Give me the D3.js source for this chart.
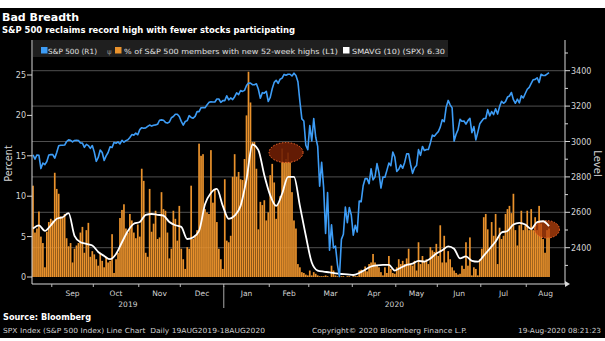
<!DOCTYPE html>
<html>
<head>
<meta charset="utf-8">
<title>Bad Breadth</title>
<script src="https://cdn.jsdelivr.net/npm/d3@7"></script>
<style>
  html, body { margin: 0; padding: 0; background: #fff; }
  svg { display: block; }
  text { font-family: "DejaVu Sans", sans-serif; }
</style>
</head>
<body>
<div id="chart"></div>
<script>
  // trading days 19AUG2019 - 18AUG2020 (weekdays)
  const days = d3.timeDay.range(new Date(2019, 7, 19), new Date(2020, 7, 19))
    .filter(d => d.getDay() % 6 !== 0)

  // S&P 500 close (R1)
  const spx = [
    2924, 2900, 2924, 2922, 2847, 2878, 2869, 2887, 2924, 2926,
    2926, 2906, 2938, 2976, 2979, 2979, 2980, 3000, 3009, 3007,
    2998, 3006, 3007, 3006, 2992, 2991, 2967, 2984, 2977, 2961,
    2977, 2940, 2888, 2910, 2952, 2938, 2893, 2919, 2938, 2970,
    2966, 2995, 2990, 2998, 2986, 3007, 2996, 3005, 3010, 3023,
    3039, 3036, 3047, 3038, 3067, 3078, 3075, 3077, 3085, 3093,
    3087, 3092, 3094, 3097, 3120, 3122, 3120, 3108, 3104, 3110,
    3134, 3141, 3154, 3154, 3141, 3114, 3093, 3113, 3118, 3146,
    3136, 3132, 3142, 3169, 3169, 3191, 3192, 3191, 3206, 3221,
    3224, 3223, 3223, 3240, 3240, 3221, 3231, 3231, 3258, 3235,
    3246, 3237, 3253, 3275, 3265, 3288, 3283, 3289, 3316, 3330,
    3330, 3321, 3321, 3326, 3295, 3244, 3276, 3273, 3284, 3226,
    3249, 3298, 3334, 3346, 3328, 3352, 3358, 3379, 3374, 3380,
    3380, 3370, 3386, 3373, 3338, 3226, 3128, 3116, 2979, 2954,
    3090, 3003, 3130, 3024, 2972, 2747, 2882, 2741, 2481, 2711,
    2386, 2529, 2398, 2409, 2305, 2237, 2447, 2476, 2630, 2541,
    2627, 2585, 2471, 2527, 2489, 2664, 2660, 2750, 2790, 2790,
    2762, 2846, 2783, 2800, 2875, 2823, 2737, 2799, 2798, 2837,
    2878, 2863, 2940, 2912, 2831, 2843, 2868, 2849, 2882, 2930,
    2930, 2870, 2820, 2852, 2864, 2954, 2922, 2972, 2949, 2955,
    2955, 2992, 3036, 3030, 3044, 3056, 3081, 3123, 3112, 3194,
    3232, 3207, 3190, 3002, 3041, 3067, 3125, 3114, 3116, 3098,
    3118, 3131, 3050, 3084, 3009, 3053, 3100, 3116, 3130, 3130,
    3180, 3145, 3169, 3152, 3185, 3155, 3197, 3227, 3216, 3225,
    3251, 3257, 3277, 3236, 3216, 3239, 3218, 3258, 3246, 3271,
    3295, 3306, 3328, 3349, 3351, 3360, 3333, 3380, 3373, 3373,
    3381, 3389
  ]

  // % of S&P 500 members with new 52-week highs (L1)
  const highs = [
    11.3, 5.5, 6.0, 8.1, 5.0, 4.2, 1.2, 5.6, 6.8, 7.2,
    7.0, 12.9, 10.9, 10.3, 7.5, 7.3, 7.8, 4.8, 3.8, 4.2,
    1.8, 3.5, 3.9, 4.2, 5.5, 6.2, 3.0, 5.8, 6.7, 2.5,
    3.2, 2.8, 2.2, 1.4, 3.0, 2.0, 1.2, 2.5, 1.8, 2.0,
    5.3, 0.5, 2.2, 3.0, 7.3, 8.3, 9.0, 6.0, 5.5, 7.8,
    7.0, 5.5, 4.8, 6.5, 5.0, 13.4, 11.9, 3.0, 2.5, 10.9,
    5.6, 6.6, 8.2, 4.7, 4.9, 10.5, 8.4, 8.2, 5.5, 2.3,
    3.5, 8.2, 7.2, 4.5, 8.8, 3.5, 2.2, 1.0, 3.7, 3.5,
    11.3, 4.7, 5.1, 5.8, 16.5, 15.0, 15.2, 8.4, 8.0, 7.8,
    15.7, 9.2, 10.9, 6.8, 3.5, 2.2, 1.0, 12.1, 4.5, 4.3,
    5.1, 12.4, 15.2, 12.4, 13.0, 12.1, 12.0, 14.6, 20.0, 25.4,
    21.6, 16.7, 16.7, 13.4, 5.9, 9.3, 8.9, 9.5, 7.0, 8.0,
    12.6, 14.0, 11.7, 7.2, 9.0, 10.0, 15.9, 14.2, 14.6, 15.4,
    14.2, 10.5, 7.0, 6.0, 1.6, 1.2, 0.6, 0.5, 0.3, 0.2,
    0.8, 0.2, 0.6, 0.4, 0.2, 0.1, 0.1, 0.1, 0.2, 0.1,
    0.0, 1.4, 0.8, 0.2, 0.1, 0.0, 0.1, 0.1, 0.0, 0.1,
    0.1, 0.0, 0.1, 0.1, 0.1, 0.8, 0.9, 0.6, 1.3, 0.7,
    1.6, 1.8, 2.85, 1.8, 1.4, 1.2, 0.6, 0.2, 1.2, 0.5,
    2.6, 1.0, 0.5, 0.4, 1.2, 2.2, 1.6, 2.0, 1.6, 2.3,
    3.5, 1.6, 1.4, 2.0, 0.8, 4.3, 1.6, 2.6, 2.0, 2.2,
    1.6, 3.7, 3.3, 3.1, 4.1, 2.6, 6.4, 1.8, 5.1, 1.8,
    3.2, 2.2, 1.2, 0.8, 0.5, 0.3, 0.4, 1.4, 1.0, 4.3,
    1.4, 4.9, 0.2, 1.2, 1.0, 0.2, 2.2, 3.5, 7.4, 7.8,
    5.9, 3.5, 6.8, 5.1, 7.8, 1.6, 6.1, 4.7, 5.1, 7.8,
    8.4, 8.8, 7.9, 10.3, 5.8, 3.9, 6.4, 8.2, 5.8, 6.4,
    8.2, 5.8, 8.4, 5.8, 7.4, 5.8, 8.8, 6.6, 4.7, 3.0,
    5.8, 6.0
  ]

  // SMAVG (10), read every 3rd trading day
  const smaStep = 3
  const smavg = [
    6.0, 6.4, 5.7, 6.4, 7.2, 7.4, 7.9, 5.1, 4.3, 4.1,
    3.9, 3.1, 2.6, 2.2, 2.85, 4.3, 5.7, 6.6, 6.8, 7.7,
    7.8, 7.7, 7.6, 6.8, 6.4, 6.2, 4.7, 4.9, 5.7, 9.0,
    10.4, 10.9, 8.8, 7.2, 7.6, 8.8, 12.1, 16.4, 15.7, 12.6,
    10.1, 8.8, 10.3, 12.4, 12.4, 8.8, 5.1, 1.8, 0.8, 0.66,
    0.58, 0.45, 0.37, 0.33, 0.25, 0.5, 0.9, 1.3, 1.45, 1.5,
    1.5, 0.8, 1.15, 1.5, 1.65, 2.0, 1.9, 2.3, 2.9, 3.3,
    3.8, 3.5, 2.3, 2.55, 2.0, 1.9, 2.65, 3.5, 4.4, 5.5,
    5.7, 6.5, 6.7, 6.5, 5.95, 6.8, 6.9, 6.3
  ]

  const pctTicks = [0, 5, 10, 15, 20, 25]
  const levelTicks = [2400, 2600, 2800, 3000, 3200, 3400]
  const levelMinor = [2300, 2500, 2700, 2900, 3100, 3300, 3500]
  const legendItems = [
    { label: "S&P 500 (R1)", key: "spx" },
    { label: "% of S&P 500 members with new 52-week highs (L1)", key: "highs" },
    { label: "SMAVG (10) (SPX) 6.30", key: "sma" }
  ]
  // circled spots on the chart (trading-day index, percent)
  const circled = [{ day: 128, pct: 15.4 }, { day: 260, pct: 5.9 }]

  const W = 605, H = 341
  const pL = 32, pR = 565, pB = 284, pT = 40
  const col = { spx: "#3d9cf5", highs: "#ea922c", sma: "#ffffff" }

  const x = d3.scaleLinear().domain([0, days.length - 1]).range([33, 549])
  const step = x(1) - x(0)
  const yL = d3.scaleLinear().domain([0, 25]).range([277, 75])
  const yR = d3.scaleLinear().domain([2400, 3400]).range([247.7, 70.7])

  const svg = d3.select("#chart").append("svg")
    .attr("width", W).attr("height", H)

  svg.append("rect").attr("x", 0).attr("y", 8).attr("width", W).attr("height", 330)
    .attr("fill", "#000")

  // titles
  svg.append("text").attr("x", 2).attr("y", 21).text("Bad Breadth")
    .attr("fill", "#fff").attr("font-weight", "bold").attr("font-size", 11)
  svg.append("text").attr("x", 2).attr("y", 32.5)
    .text("S&P 500 reclaims record high with fewer stocks participating")
    .attr("fill", "#fff").attr("font-weight", "bold").attr("font-size", 8)
    .attr("textLength", 293).attr("lengthAdjust", "spacingAndGlyphs")

  // grid
  svg.append("g").selectAll("line").data(levelTicks).join("line")
    .attr("x1", pL).attr("x2", pR)
    .attr("y1", d => yR(d)).attr("y2", d => yR(d))
    .attr("stroke", "#4f4f4f").attr("stroke-width", 1)

  // bars
  svg.append("g").selectAll("rect").data(highs).join("rect")
    .attr("x", (d, i) => x(i) - 0.85)
    .attr("width", 1.7)
    .attr("y", d => yL(d))
    .attr("height", d => yL(0) - yL(d))
    .attr("fill", col.highs)

  // circled spots
  svg.append("g").selectAll("ellipse").data(circled).join("ellipse")
    .attr("cx", d => x(d.day)).attr("cy", d => yL(d.pct))
    .attr("rx", (d, i) => i == 0 ? 17 : 12.5)
    .attr("ry", (d, i) => i == 0 ? 10 : 8.7)
    .attr("fill", (d, i) => i == 0 ? "#6e1e04" : "#b8420c")
    .attr("fill-opacity", (d, i) => i == 0 ? 0.9 : 0.75)
    .attr("stroke", "#ff6a2a").attr("stroke-width", 1)
    .attr("stroke-dasharray", "1.5,1.5")

  // SMAVG line
  svg.append("path").datum(smavg)
    .attr("d", d3.line().x((d, i) => x(i * smaStep)).y(d => yL(d)).curve(d3.curveMonotoneX))
    .attr("fill", "none").attr("stroke", col.sma).attr("stroke-width", 1.8)

  // SPX line
  svg.append("path").datum(spx)
    .attr("d", d3.line().x((d, i) => x(i)).y(d => yR(d)))
    .attr("fill", "none").attr("stroke", col.spx).attr("stroke-width", 1.6)
    .attr("stroke-linejoin", "round")

  // axes
  const ax = svg.append("g").attr("stroke", "#d8d8d8").attr("stroke-width", 1)
  ax.append("line").attr("x1", pL).attr("x2", pL).attr("y1", pT).attr("y2", pB)
  ax.append("line").attr("x1", pR).attr("x2", pR).attr("y1", pT).attr("y2", pB)
  ax.append("line").attr("x1", pL).attr("x2", pR).attr("y1", pB).attr("y2", pB)
  svg.append("path").attr("d", `M${pR},${pB - 3}L${pR + 5},${pB}L${pR},${pB + 3}Z`)
    .attr("fill", "#d8d8d8")

  const lab = { fill: "#d4d4d4", size: 8 }
  const lt = svg.append("g")
  lt.selectAll("line").data(pctTicks).join("line")
    .attr("x1", pL - 5).attr("x2", pL).attr("y1", d => yL(d)).attr("y2", d => yL(d))
    .attr("stroke", "#d8d8d8")
  lt.selectAll("text").data(pctTicks).join("text")
    .attr("x", pL - 6).attr("y", d => yL(d) + 3).attr("text-anchor", "end")
    .attr("fill", lab.fill).attr("font-size", lab.size).text(d => d)

  const rt = svg.append("g")
  rt.selectAll("line.maj").data(levelTicks).join("line").attr("class", "maj")
    .attr("x1", pR).attr("x2", pR + 5).attr("y1", d => yR(d)).attr("y2", d => yR(d))
    .attr("stroke", "#d8d8d8")
  rt.selectAll("line.min").data(levelMinor).join("line").attr("class", "min")
    .attr("x1", pR).attr("x2", pR + 3).attr("y1", d => yR(d)).attr("y2", d => yR(d))
    .attr("stroke", "#d8d8d8")
  rt.selectAll("text").data(levelTicks).join("text")
    .attr("x", pR + 6).attr("y", d => yR(d) + 3)
    .attr("fill", lab.fill).attr("font-size", lab.size).text(d => d)

  svg.append("text").attr("transform", `translate(12,163.5) rotate(-90)`)
    .attr("text-anchor", "middle").attr("fill", lab.fill).attr("font-size", 9.7).text("Percent")
  svg.append("text").attr("transform", `translate(594,163.5) rotate(90)`)
    .attr("text-anchor", "middle").attr("fill", lab.fill).attr("font-size", 10).text("Level")

  // months
  const fmt = d3.timeFormat("%b")
  const months = d3.groups(days.map((d, i) => ({ d, i })), o => o.d.getFullYear() * 12 + o.d.getMonth())
  const mInfo = months.map(([k, arr]) => {
    const i0 = arr[0].i, i1 = arr[arr.length - 1].i
    const s = Math.max(pL, x(i0) - step / 2)
    const e = i1 == days.length - 1 ? pR : x(i1) + step / 2
    return { name: fmt(arr[0].d), s, e, year: arr[0].d.getFullYear(), first: i0 }
  })
  const mg = svg.append("g")
  mg.selectAll("line").data(mInfo.slice(1)).join("line")
    .attr("x1", d => d.s).attr("x2", d => d.s).attr("y1", pB).attr("y2", pB + 3)
    .attr("stroke", "#bbb")
  mg.selectAll("text").data(mInfo.filter(d => d.e - d.s > 25)).join("text")
    .attr("x", d => (d.s + d.e) / 2).attr("y", 296).attr("text-anchor", "middle")
    .attr("fill", lab.fill).attr("font-size", 7.5).text(d => d.name)

  const yb = mInfo.find(d => d.year == 2020).s
  svg.append("line").attr("x1", yb).attr("x2", yb).attr("y1", pB + 2).attr("y2", 308)
    .attr("stroke", "#aaa")
  svg.append("g").selectAll("text").data([[pL, yb, "2019"], [yb, pR, "2020"]]).join("text")
    .attr("x", d => (d[0] + d[1]) / 2).attr("y", 307).attr("text-anchor", "middle")
    .attr("fill", lab.fill).attr("font-size", 7.5).text(d => d[2])

  // legend
  const lg = svg.append("g")
  lg.append("rect").attr("x", pL + 1).attr("y", pT).attr("width", 415).attr("height", 17)
    .attr("fill", "#1f1f1f")
  const lx = [41, 115, 343]
  const tx = [[48, 49], [124, 214], [352, 93]]
  legendItems.forEach((it, i) => {
    lg.append("rect").attr("x", lx[i]).attr("y", 47).attr("width", 6.5).attr("height", 6.5)
      .attr("fill", col[it.key])
    lg.append("text").attr("x", tx[i][0]).attr("y", 54).text(it.label)
      .attr("fill", "#e0e0e0").attr("font-size", 7.2)
      .attr("textLength", tx[i][1]).attr("lengthAdjust", "spacingAndGlyphs")
  })
  lg.append("text").attr("x", 107).attr("y", 54).text("ψ").attr("fill", "#888").attr("font-size", 7)

  // footer
  svg.append("text").attr("x", 3).attr("y", 320).text("Source: Bloomberg")
    .attr("fill", "#fff").attr("font-weight", "bold").attr("font-size", 8)
    .attr("textLength", 88).attr("lengthAdjust", "spacingAndGlyphs")
  const ft = [
    [3, "start", "SPX Index (S&P 500 Index) Line Chart  Daily 19AUG2019-18AUG2020", 262],
    [312, "start", "Copyright© 2020 Bloomberg Finance L.P.", 155],
    [601, "end", "19-Aug-2020 08:21:23", 83]
  ]
  svg.append("g").selectAll("text").data(ft).join("text")
    .attr("x", d => d[0]).attr("y", 333).attr("text-anchor", d => d[1])
    .attr("fill", "#cfcfcf").attr("font-size", 7)
    .attr("textLength", d => d[3]).attr("lengthAdjust", "spacingAndGlyphs")
    .attr("xml:space", "preserve")
    .text(d => d[2])
</script>
</body>
</html>
